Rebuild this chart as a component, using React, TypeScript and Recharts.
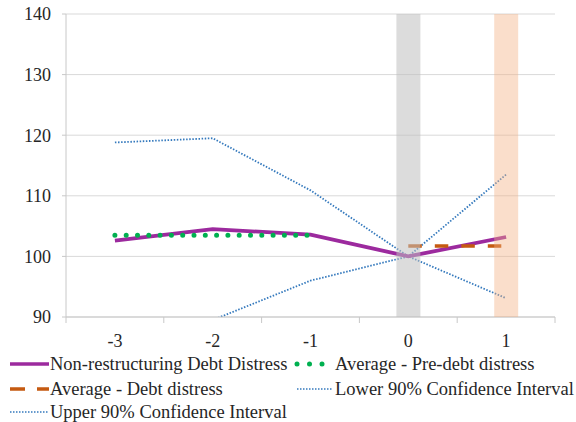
import { ComposedChart, Line, Bar, Cell, XAxis, YAxis, CartesianGrid } from 'recharts';

// event time relative to debt distress
const periods = ['-3', '-2', '-1', '0', '1'];
const nonRestructuring = [102.6, 104.5, 103.6, 100, 103.2];
const avgPreDistress = [103.5, 103.5, 103.5, null, null];
const avgDistress = [null, null, null, 101.7, 101.7];
const lowerCI = [86.4, 89.5, 96, 100, 93.1];
const upperCI = [118.8, 119.5, 110.9, 100, 113.5];
// shaded columns for the distress years
const shade = [null, null, null, 140, 140];
const yTicks = [90, 100, 110, 120, 130, 140];

const names = {
  nonRestructuring: 'Non-restructuring Debt Distress',
  avgPreDistress: 'Average - Pre-debt distress',
  avgDistress: 'Average - Debt distress',
  lowerCI: 'Lower 90% Confidence Interval',
  upperCI: 'Upper 90% Confidence Interval',
};

const data = periods.map((p, i) => ({
  period: p,
  nonRestructuring: nonRestructuring[i],
  avgPreDistress: avgPreDistress[i],
  avgDistress: avgDistress[i],
  lowerCI: lowerCI[i],
  upperCI: upperCI[i],
  shade: shade[i],
}));

const FONT = '"Liberation Serif", "Times New Roman", serif';
const TEXT = '#262626';
const AXIS = '#C8C8C8';
const PURPLE = '#9C2A9E';
const GREEN = '#00B050';
const ORANGE = '#C55A11';
const BLUE = '#3479BD';

const PLOT_BOTTOM = 317;

function PeriodTick(props: any) {
  const { x, payload, index } = props;
  const half = 48.9;
  const y = PLOT_BOTTOM;
  return (
    <g>
      <line x1={x - half} y1={y} x2={x - half} y2={y + 6} stroke={AXIS} />
      {index === periods.length - 1 && <line x1={x + half} y1={y} x2={x + half} y2={y + 6} stroke={AXIS} />}
      <text x={x} y={y + 24} textAnchor="middle" dominantBaseline="central" fill={TEXT} fontSize={18} fontFamily={FONT}>
        {payload.value}
      </text>
    </g>
  );
}

function LegendRow({ top, left, icon, label }: { top: number; left: number; icon: any; label: string }) {
  return (
    <div style={{ position: 'absolute', top: top - 12, left, height: 24, display: 'flex', alignItems: 'center', whiteSpace: 'nowrap' }}>
      {icon}
      <span style={{ fontFamily: FONT, fontSize: 18.5, color: TEXT, lineHeight: '24px' }}>{label}</span>
    </div>
  );
}

export default function App() {
  return (
    <div style={{ position: 'absolute', left: 0, top: 0, width: 576, height: 422, background: '#fff' }}>
      <ComposedChart width={576} height={422} data={data} margin={{ top: 14, right: 21, left: 0, bottom: 0 }}>
        <CartesianGrid vertical={false} stroke="#D9D9D9" />
        <XAxis
          dataKey="period"
          height={105}
          axisLine={{ stroke: AXIS }}
          tickLine={false}
          tickSize={0}
          tickMargin={0}
          tick={<PeriodTick />}
          interval={0}
        />
        <YAxis
          width={66}
          domain={[90, 140]}
          ticks={yTicks}
          allowDataOverflow
          axisLine={{ stroke: AXIS }}
          tickLine={{ stroke: AXIS }}
          tickSize={4}
          tickMargin={11}
          tick={{ fill: TEXT, fontSize: 18, fontFamily: FONT }}
        />
        <Line dataKey="upperCI" stroke={BLUE} strokeWidth={1.8} strokeDasharray="1.5 1.6" dot={false} activeDot={false} isAnimationActive={false} />
        <Line dataKey="lowerCI" stroke={BLUE} strokeWidth={1.8} strokeDasharray="1.5 1.6" dot={false} activeDot={false} isAnimationActive={false} />
        <Line dataKey="nonRestructuring" stroke={PURPLE} strokeWidth={3.8} dot={false} activeDot={false} isAnimationActive={false} />
        <Line dataKey="avgPreDistress" stroke={GREEN} strokeWidth={5} strokeDasharray="0 11.3" strokeLinecap="round" dot={false} activeDot={false} isAnimationActive={false} />
        <Line dataKey="avgDistress" stroke={ORANGE} strokeWidth={3.5} strokeDasharray="13.5 13" dot={false} activeDot={false} isAnimationActive={false} />
        <Bar dataKey="shade" barSize={24} isAnimationActive={false} zIndex={600}>
          {shade.map((_, i) => (
            <Cell key={i} fill={i === 4 ? '#F4B183' : '#BFBFBF'} fillOpacity={i === 4 ? 0.42 : 0.55} />
          ))}
        </Bar>
      </ComposedChart>

      <LegendRow
        top={364}
        left={10}
        label={names.nonRestructuring}
        icon={<svg width={40} height={10}><line x1={0} y1={5} x2={39} y2={5} stroke={PURPLE} strokeWidth={3.5} /></svg>}
      />
      <LegendRow
        top={364}
        left={292}
        label={names.avgPreDistress}
        icon={
          <svg width={43} height={10}>
            <circle cx={5} cy={5} r={2.5} fill={GREEN} />
            <circle cx={17.5} cy={5} r={2.5} fill={GREEN} />
            <circle cx={30} cy={5} r={2.5} fill={GREEN} />
          </svg>
        }
      />
      <LegendRow
        top={389}
        left={10}
        label={names.avgDistress}
        icon={
          <svg width={40} height={10}>
            <line x1={0} y1={5} x2={39} y2={5} stroke={ORANGE} strokeWidth={3.5} strokeDasharray="15 12" />
          </svg>
        }
      />
      <LegendRow
        top={389}
        left={297}
        label={names.lowerCI}
        icon={<svg width={38} height={10}><line x1={0} y1={5} x2={36} y2={5} stroke={BLUE} strokeWidth={1.5} strokeDasharray="1.5 1.5" /></svg>}
      />
      <LegendRow
        top={412}
        left={10}
        label={names.upperCI}
        icon={<svg width={40} height={10}><line x1={0} y1={5} x2={38} y2={5} stroke={BLUE} strokeWidth={1.5} strokeDasharray="1.5 1.5" /></svg>}
      />
    </div>
  );
}
